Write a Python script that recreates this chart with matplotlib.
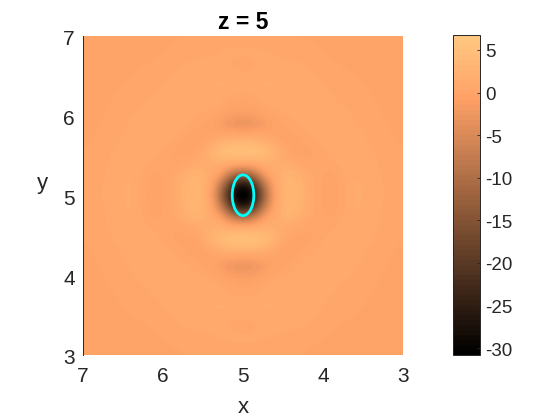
import numpy as np
import matplotlib
matplotlib.use("Agg")
import matplotlib.pyplot as plt
from matplotlib.patches import Ellipse
from matplotlib.transforms import ScaledTranslation

plt.rcParams['font.family'] = ['Liberation Sans', 'DejaVu Sans']
plt.rcParams['axes.unicode_minus'] = False

title = "z = 5"
xlabel = "x"
ylabel = "y"
x_ticks = [3, 4, 5, 6, 7]
y_ticks = [3, 4, 5, 6, 7]
cbar_ticks = [-30, -25, -20, -15, -10, -5, 0, 5]
vmin, vmax = -30.8, 6.76
center = (5.0, 5.0)
ellipse_w, ellipse_h = 0.27, 0.51

# field, one quadrant: offsets from the centre
dx_off = [0, .1, .2, .3, .4, .55, .7, .88, 1.1, 1.4, 1.6, 1.8, 2]
dy_off = [0, .1, .2, .3, .4, .55, .7, .88, 1.1, 1.4, 1.6, 1.8, 2]
field = np.array([
    [-33, -29, -20, -8, 0, 3.4, 2.8, .9, -.5, 1.6, 1.3, .8, .4],
    [-30, -27, -17, -6.5, .3, 3.4, 2.8, .9, -.4, 1.6, 1.3, .8, .4],
    [-20, -17, -10, -2.5, 1, 3.2, 2.5, .9, -.2, 1.6, 1.2, .7, .4],
    [-7, -6, -2.5, .8, 1.6, 2.5, 1.8, .7, .2, 1.5, 1.2, .7, .4],
    [1.2, 1.4, 1.8, 2, 1.8, 1.4, .8, .3, .7, 1.5, 1.1, .6, .3],
    [6, 5.8, 5.2, 4.2, 2.6, .5, -.3, .2, 1.2, 1.5, 1, .5, .3],
    [2.2, 2.2, 2, 1.3, .6, -.4, 0, .9, 1.5, 1.3, .7, .4, .2],
    [-3, -2.9, -2.3, -1.2, -.3, .3, 1, 1.5, 1.5, 1, .5, .3, .1],
    [-.3, 0, .4, .8, 1.1, 1.3, 1.5, 1.5, 1.1, .7, .4, .2, 0],
    [1.6, 1.6, 1.6, 1.6, 1.5, 1.5, 1.3, 1.1, .7, .4, .2, .1, 0],
    [.6, .7, .9, 1.1, 1.2, 1.2, 1.1, .8, .4, .2, .1, 0, -.1],
    [1, 1, 1, .9, .8, .6, .5, .4, .2, .1, 0, -.1, -.1],
    [.6, .6, .5, .5, .4, .3, .3, .2, .1, 0, -.1, -.1, -.2],
])

# resample the table on a fine grid for display, mirror into four quadrants
fine = np.linspace(0, 2, 161)
step1 = np.array([np.interp(fine, dx_off, row) for row in field])
step2 = np.array([np.interp(fine, dy_off, col) for col in step1.T]).T
full = np.vstack([step2[:0:-1], step2])
full = np.hstack([full[:, :0:-1], full])
kernel = np.ones(9) / 9
for _ in range(2):
    pad = np.pad(full, 4, mode='edge')
    pad = np.apply_along_axis(lambda r: np.convolve(r, kernel, 'valid'), 1, pad)
    full = np.apply_along_axis(lambda c: np.convolve(c, kernel, 'valid'), 0, pad)

W, H = 560, 420
fig = plt.figure(figsize=(W / 100, H / 100), dpi=100)
ax = fig.add_axes([83 / W, 1 - 355 / H, 320 / W, 319.5 / H])
cmap = plt.get_cmap('copper', 64)
im = ax.imshow(full, extent=[3, 7, 3, 7], origin='lower', cmap=cmap,
               vmin=vmin, vmax=vmax, interpolation='bilinear', aspect='auto')
ax.set_xlim(7, 3)
ax.set_ylim(3, 7)
ax.add_patch(Ellipse(center, ellipse_w, ellipse_h, fill=False,
                     edgecolor='#00ffff', linewidth=2.0))
gray = '#262626'
ax.set_xticks(x_ticks)
ax.set_yticks(y_ticks)
ax.tick_params(labelsize=15, colors=gray, length=0)
ax.tick_params(axis='x', pad=9)
ax.tick_params(axis='y', pad=6)
for s in ('top', 'right', 'bottom'):
    ax.spines[s].set_visible(False)
ax.spines['left'].set_color(gray)
ax.spines['left'].set_linewidth(0.7)
ax.set_xlabel(xlabel, fontsize=16, color=gray, va='center')
ax.xaxis.set_label_coords(0.5, (355 - 408) / 320)
ax.set_ylabel(ylabel, fontsize=16, color=gray, rotation=0, va='center', ha='center')
ax.yaxis.set_label_coords((42 - 83) / 320, (355 - 183) / 320)
ax.set_title(title, fontsize=16.5, fontweight='bold', color='black', pad=5)
down2 = ScaledTranslation(0, -2 / 100, fig.dpi_scale_trans)
for t in ax.get_yticklabels():
    t.set_transform(t.get_transform() + down2)

cax = fig.add_axes([452.5 / W, 1 - 355 / H, 27 / W, 320 / H])
cb = fig.colorbar(im, cax=cax)
cb.set_ticks(cbar_ticks)
cb.ax.tick_params(labelsize=13.5, colors=gray, length=2.5, width=0.6, direction='in', pad=4)
down1 = ScaledTranslation(0, -1 / 100, fig.dpi_scale_trans)
for t in cb.ax.get_yticklabels():
    t.set_transform(t.get_transform() + down1)
cb.outline.set_edgecolor(gray)
cb.outline.set_linewidth(0.7)
fig.savefig('out.png', dpi=100)
